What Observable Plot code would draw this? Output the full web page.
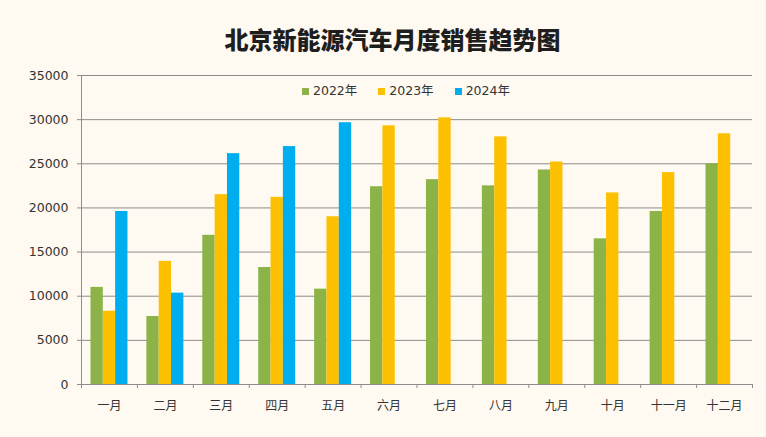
<!DOCTYPE html>
<html><head><meta charset="utf-8">
<script src="https://cdn.jsdelivr.net/npm/d3@7"></script>
<script src="https://cdn.jsdelivr.net/npm/@observablehq/plot@0.6"></script>
<style>
html,body{margin:0;padding:0;background:#fefaf1;}
#wrap{position:relative;width:766px;height:437px;overflow:hidden;background:#fefaf1;}
#title{height:60px;box-sizing:border-box;padding-top:26px;padding-left:19px;text-align:center;font:900 24px/26px "Noto Sans CJK SC",sans-serif;color:#1e1e1e;}
#legend{position:absolute;top:83px;left:302px;display:flex;align-items:center;font:12.5px/16px "DejaVu Sans",sans-serif;color:#333;}
#legend .item{display:flex;align-items:center;margin-right:21px;}
#legend .sw{width:7px;height:7px;margin-right:4px;}
#legend .lab{font-family:"DejaVu Sans","Noto Sans CJK SC",sans-serif;}
</style></head>
<body>
<div id="wrap">
<div id="title">北京新能源汽车月度销售趋势图</div>
<div id="chart"></div>
<div id="legend"></div>
</div>
<script>
const months = ["一月","二月","三月","四月","五月","六月","七月","八月","九月","十月","十一月","十二月"];
const years = ["2022年","2023年","2024年"];
const sales2022 = [11000,7700,16900,13250,10800,22400,23200,22500,24300,16500,19600,25000];
const sales2023 = [8300,13950,21500,21200,19000,29300,30200,28050,25200,21700,24000,28400];
const sales2024 = [19600,10350,26150,26950,29650];
const colors = ["#8cb347","#fdc000","#00aeef"];
const yTicks = [0,5000,10000,15000,20000,25000,30000,35000];

const W = 766, H = 377, ML = 81, MR = 14, MT = 15, MB = 53;
const step = (W - ML - MR) / months.length;
const barW = step * 0.2205;
const inset = (step - barW) / 2;
const plotH = H - MT - MB;
const grey = "#8c8c8c";

const series = [sales2022, sales2023, sales2024].map((vals, i) =>
  vals.map((v, j) => ({month: months[j], value: v, year: years[i]})));

const barMarks = series.map((data, i) => Plot.barY(data, {
  x: "month", y: "value", fill: colors[i],
  insetLeft: inset, insetRight: inset, dx: (i - 1) * barW
}));

const chart = Plot.plot({
  width: W, height: H,
  marginLeft: ML, marginRight: MR, marginTop: MT, marginBottom: MB,
  style: {background: "transparent", fontFamily: "DejaVu Sans", overflow: "visible"},
  x: {type: "band", domain: months, paddingInner: 0, paddingOuter: 0, round: false},
  y: {domain: [0, 35000]},
  marks: [
    Plot.gridY(yTicks, {stroke: grey, strokeOpacity: 1, strokeWidth: 1}),
    ...barMarks,
    Plot.ruleY([0], {stroke: grey}),
    Plot.ruleX([months[0]], {dx: -step / 2, stroke: grey, insetBottom: -4}),
    Plot.ruleX(months, {dx: -step / 2, stroke: grey, insetTop: plotH, insetBottom: -4}),
    Plot.ruleX([months[months.length - 1]], {dx: step / 2, stroke: grey, insetTop: plotH, insetBottom: -4}),
    Plot.axisY(yTicks, {label: null, tickSize: 4, tickPadding: 9, tickFormat: d => String(d), fontSize: 12.5, fill: "#333", stroke: grey}),
    Plot.axisX({label: null, tickSize: 0, tickPadding: 17, fontSize: 12, fontFamily: "Noto Sans CJK SC", fill: "#333"})
  ]
});
document.getElementById("chart").appendChild(chart);

const leg = document.getElementById("legend");
years.forEach((y, i) => {
  const it = document.createElement("div");
  it.className = "item";
  it.innerHTML = `<span class="sw" style="background:${colors[i]}"></span><span class="lab">${y}</span>`;
  leg.appendChild(it);
});
</script>
</body></html>
